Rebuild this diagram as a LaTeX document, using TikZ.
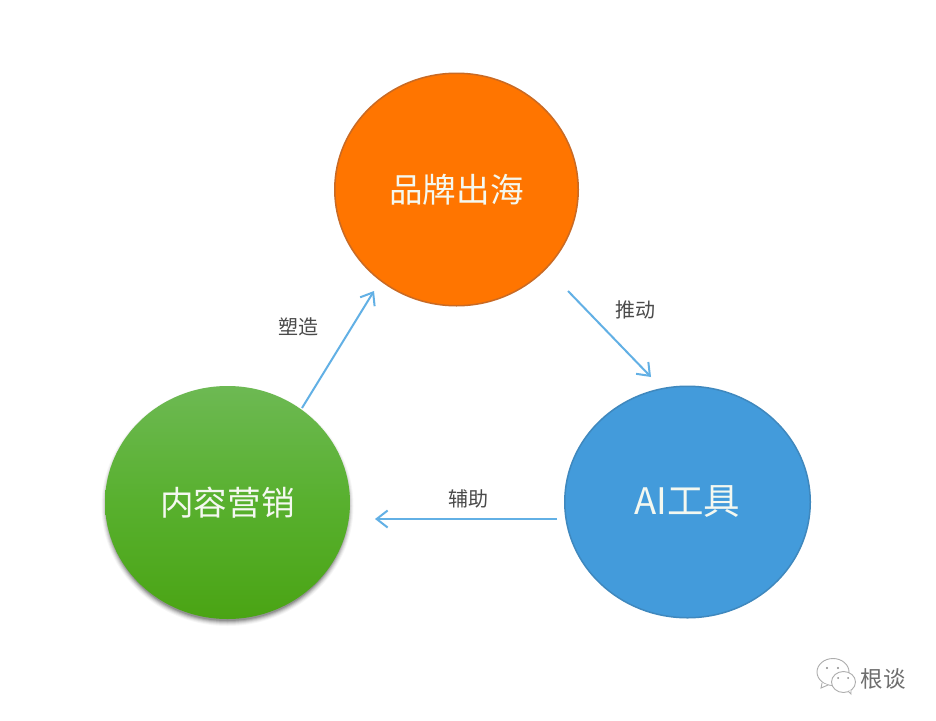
\documentclass[tikz,border=0pt]{standalone}
\usepackage{fontspec}
\setmainfont{Noto Sans CJK SC}
\usetikzlibrary{arrows.meta,shadings}
\definecolor{orangefill}{HTML}{FF7500}
\definecolor{orangeedge}{HTML}{C96A24}
\definecolor{bluefill}{HTML}{439BDB}
\definecolor{blueedge}{HTML}{3F88BE}
\definecolor{greentop}{HTML}{6DB953}
\definecolor{greenmid}{HTML}{58B02E}
\definecolor{greenbot}{HTML}{4AA414}
\definecolor{arrowblue}{HTML}{62B0E5}
\definecolor{lab}{HTML}{4A4A4A}
\definecolor{logo}{HTML}{8A8A8A}
\definecolor{softwhite}{HTML}{F4F8F0}
\tikzset{
  x=1pt,y=-1pt,
  bubble/.style={ellipse,inner sep=0pt,text=softwhite,font=\fontsize{33.6}{36}\selectfont},
  link/.style={draw=arrowblue,line width=2pt,-{Straight Barb[length=11pt,width=17pt,line width=2pt]}},
  lbl/.style={text=lab,inner sep=0pt,font=\fontsize{20}{22}\selectfont},
  wm/.style={draw=logo!70,line width=0.9pt,fill=white},
}
\usetikzlibrary{shapes.geometric}
\begin{document}
\begin{tikzpicture}
\useasboundingbox (0,0) rectangle (936,720);
\fill[white] (0,0) rectangle (936,720);
% green drop shadow: soft, falling below the circle
\foreach \g/\o in {4/0.035,3/0.05,2/0.07,1/0.09,0/0.12,-1/0.15}{
  \fill[black,opacity=\o] (227.5,506) ellipse [x radius=122+\g,y radius=116+\g];
}
\node[bubble,draw=orangeedge,line width=1.5pt,fill=orangefill,minimum width=243.5pt,minimum height=232.5pt] (brand) at (456.5,189.5) {品牌出海};
\node[bubble,draw=blueedge,line width=1.5pt,fill=bluefill,minimum width=245.5pt,minimum height=231.5pt] (ai) at (687.5,502) {\fontsize{36.5}{38}\selectfont AI工具};
\node[bubble,top color=greentop,bottom color=greenbot,middle color=greenmid,minimum width=245pt,minimum height=233pt] (content) at (227.5,502.5) {内容营销};
\coordinate (a1s) at (302,408);
\coordinate (a1e) at (374,291);
\coordinate (a2s) at (568,291);
\coordinate (a2e) at (651,377);
\coordinate (a3s) at (557,519);
\coordinate (a3e) at (375,519);
\draw[link] (a1s) -- (a1e);
\draw[link] (a2s) -- (a2e);
\draw[link] (a3s) -- (a3e);
\node[lbl] (l1) at (298,326.5) {塑造};
\node[lbl] (l2) at (635.5,310) {推动};
\node[lbl] (l3) at (468,499) {辅助};
% watermark
\draw[wm] (833,672) ellipse [x radius=16,y radius=13.5];
\draw[wm] (822,683) -- (821,688) -- (828,685);
\draw[wm] (843.5,682) ellipse [x radius=12,y radius=10.5];
\draw[wm] (848,691) -- (851,694) -- (851,690);
\fill[logo] (827,668) circle (1.1) (838,668) circle (1.1) (838,678) circle (1) (848,678) circle (1);
\node[text=logo!80!black,inner sep=0pt,font=\fontsize{22.5}{24}\selectfont] (mark) at (883,679) {根谈};
\end{tikzpicture}
\end{document}
